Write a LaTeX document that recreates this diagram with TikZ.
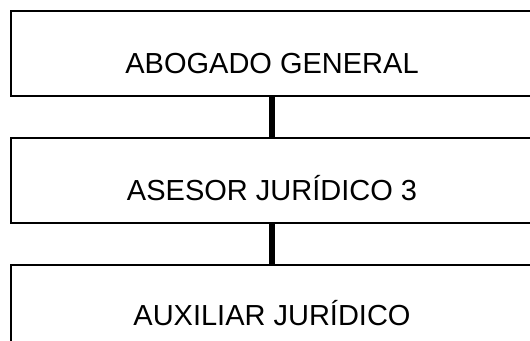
\documentclass[tikz,border=0pt]{standalone}
\usepackage{fontspec}
\setmainfont{Liberation Sans}
\begin{document}
\begin{tikzpicture}[x=1pt,y=-1pt,
  box/.style={draw=black,line width=1.3pt,fill=white,rectangle,minimum width=530pt,inner sep=0pt},
  lbl/.style={anchor=base,font=\fontsize{29}{34}\selectfont,inner sep=0pt},
  conn/.style={line width=5.5pt,draw=black}]
\useasboundingbox (0,0) rectangle (530,340);
\clip (0,0) rectangle (530,340);
\node[box,minimum height=85pt] (b1) at (276,53.5) {};
\node[box,minimum height=85pt] (b2) at (276,180.5) {};
\node[box,minimum height=110pt] (b3) at (276,320) {};
\node[lbl] (t1) at (272,73) {ABOGADO GENERAL};
\node[lbl] (t2) at (272,200) {ASESOR JURÍDICO 3};
\node[lbl] (t3) at (272,325) {AUXILIAR JURÍDICO};
\draw[conn] (b1.south -| t1) -- (b2.north -| t1);
\draw[conn] (b2.south -| t1) -- (b3.north -| t1);
\end{tikzpicture}
\end{document}
